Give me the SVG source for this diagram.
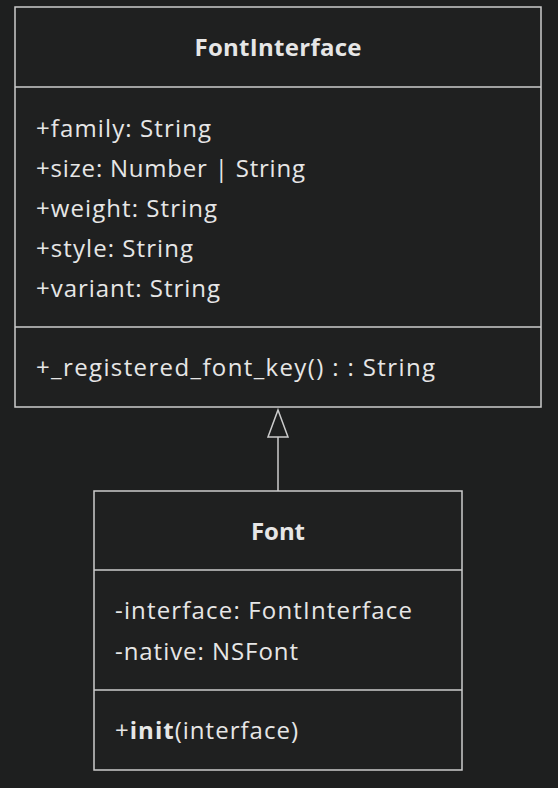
<svg xmlns="http://www.w3.org/2000/svg" width="558" height="788" viewBox="0 0 558 788">
<defs>
<style>
.bg{fill:#1e1f1f}
.box{fill:#1f2020;stroke:#cccccc;stroke-width:1.5}
.div{stroke:#cccccc;stroke-width:1.5}
.t{font-family:"Open Sans","Noto Sans",sans-serif;font-size:24px;fill:#e6e6e6;font-variant-ligatures:none}
.title{font-weight:bold;text-anchor:middle}
.edge{stroke:#cccccc;stroke-width:1.5;fill:none}
.head{fill:#1e1f1f;stroke:#cccccc;stroke-width:1.5}
</style>
</defs>
<rect class="bg" x="0" y="0" width="558" height="788"/>
<g id="connectors">
<line class="edge" x1="278" y1="491" x2="278" y2="437"/>
<path class="head" d="M278,410 L288,437 L268,437 Z"/>
</g>
<g id="FontInterface">
<rect class="box" x="15" y="7" width="526" height="400"/>
<line class="div" x1="15" y1="87" x2="541" y2="87"/>
<line class="div" x1="15" y1="327" x2="541" y2="327"/>
<text class="t title" x="278" y="56" textLength="167">FontInterface</text>
<text class="t" x="36" y="137" textLength="175">+family: String</text>
<text class="t" x="36" y="177" textLength="269">+size: Number | String</text>
<text class="t" x="36" y="217" textLength="181">+weight: String</text>
<text class="t" x="36" y="257" textLength="157">+style: String</text>
<text class="t" x="36" y="297" textLength="184">+variant: String</text>
<text class="t" x="36" y="376" textLength="399">+_registered_font_key() : : String</text>
</g>
<g id="Font">
<rect class="box" x="94" y="491" width="368" height="279"/>
<line class="div" x1="94" y1="570" x2="462" y2="570"/>
<line class="div" x1="94" y1="690" x2="462" y2="690"/>
<text class="t title" x="278" y="540" textLength="54">Font</text>
<text class="t" x="115" y="619" textLength="297">-interface: FontInterface</text>
<text class="t" x="115" y="660" textLength="183">-native: NSFont</text>
<text class="t" x="115" y="739" textLength="183">+<tspan font-weight="bold">init</tspan>(interface)</text>
</g>
</svg>
